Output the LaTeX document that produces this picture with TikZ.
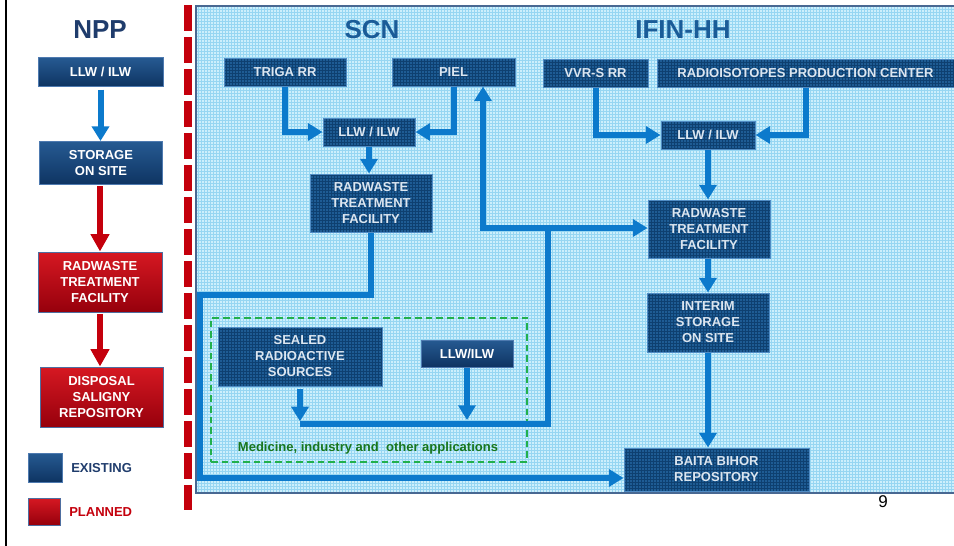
\documentclass[tikz,border=0pt]{standalone}
\usepackage{fontspec}
\setmainfont{Liberation Sans}
\usepackage{tikz}
\usetikzlibrary{arrows.meta}

\definecolor{navytxt}{RGB}{31,60,108}
\definecolor{headblue}{RGB}{26,92,152}
\definecolor{flowblue}{RGB}{12,122,204}
\definecolor{planred}{RGB}{196,0,12}
\definecolor{medgreen}{RGB}{34,176,76}
\definecolor{medtxt}{RGB}{24,118,28}
\definecolor{panelbg}{RGB}{204,239,252}
\definecolor{panelln}{RGB}{150,214,242}
\definecolor{panelfrm}{RGB}{72,104,146}
\definecolor{unitbg}{RGB}{30,92,148}
\definecolor{unitln}{RGB}{14,64,112}

\begin{document}
\begin{tikzpicture}[x=0.75pt,y=0.75pt,yscale=-1,xscale=1,
  boxfont/.style={font=\bfseries\fontsize{9.75}{12}\selectfont, align=center, inner sep=0pt},
  existing/.style={boxfont, draw={rgb,255:red,78;green,122;blue,176}, line width=0.75pt, top color={rgb,255:red,38;green,90;blue,146}, bottom color={rgb,255:red,14;green,52;blue,98}, text=white},
  planned/.style={boxfont, draw={rgb,255:red,78;green,110;blue,160}, line width=0.75pt, top color={rgb,255:red,214;green,24;blue,34}, bottom color={rgb,255:red,150;green,0;blue,12}, text=white},
  unit/.style={boxfont, draw={rgb,255:red,80;green,140;blue,196}, line width=0.75pt, fill=unitbg, text={rgb,255:red,220;green,230;blue,240},
    path picture={\draw[unitln, line width=0.3pt, step=3] (path picture bounding box.south west) grid (path picture bounding box.north east);}},
  flow/.style={draw=flowblue, line width=4.5pt, -{Triangle[width=12.75pt,length=11pt]}},
  pipe/.style={draw=flowblue, line width=4.5pt},
  redflow/.style={draw=planred, line width=4.5pt, -{Triangle[width=13.5pt,length=13pt]}},
  heading/.style={font=\bfseries\fontsize{19.5}{22}\selectfont, text=headblue, inner sep=0pt}
]
\useasboundingbox (0,0) rectangle (954,546);

%Background and frames
\draw[black, line width=1.9pt] (6,0) -- (6,546);
\fill[panelbg] (196,6) rectangle (954,493);
\draw[panelln, line width=0.35pt, step=3] (196,6) grid (954,493);
\draw[panelfrm, line width=1.9pt] (954,6) -- (196,6) -- (196,493) -- (954,493);
\draw[planred, line width=6pt, dash pattern=on 19.5pt off 4.5pt] (188,5) -- (188,510);

% Headings
\node[heading, text=navytxt] (nppT) at (100,30) {NPP};
\node[heading] (scnT) at (372,30) {SCN};
\node[heading] (ifinT) at (683,30) {IFIN-HH};

% NPP column
\node[existing, minimum width=93.75pt, minimum height=21.75pt] (nppLlw) at (100.5,72) {LLW / ILW};
\node[existing, minimum width=92.25pt, minimum height=32.25pt] (nppStore) at (101,163) {STORAGE\\ON SITE};
\node[planned, minimum width=93pt, minimum height=45pt] (nppRad) at (100,282) {RADWASTE\\TREATMENT\\FACILITY};
\node[planned, minimum width=92.25pt, minimum height=45pt] (nppDisp) at (101.5,397) {DISPOSAL\\SALIGNY\\REPOSITORY};

% Legend
\node[existing, minimum width=25.5pt, minimum height=21.75pt] (exBox) at (45,467.5) {};
\node[planned, minimum width=24pt, minimum height=20.25pt] (plBox) at (44,511.5) {};
\node[boxfont, text=navytxt, anchor=west] (exT) at (71,468) {EXISTING};
\node[boxfont, text=planred, anchor=west] (plT) at (69,512) {PLANNED};

% SCN units
\node[unit, minimum width=91.5pt, minimum height=21pt] (triga) at (285,72) {TRIGA RR};
\node[unit, minimum width=92.25pt, minimum height=21pt] (piel) at (453.5,72) {PIEL};
\node[unit, minimum width=69pt, minimum height=21pt] (llwS) at (369,132) {LLW / ILW};
\node[unit, minimum width=91.5pt, minimum height=43.5pt] (radS) at (371,203) {RADWASTE\\TREATMENT\\FACILITY};

% IFIN-HH units
\node[unit, minimum width=78.75pt, minimum height=21pt] (vvr) at (595.5,73) {VVR-S RR};
\node[unit, minimum width=222.75pt, minimum height=21pt] (rpc) at (805.5,73) {RADIOISOTOPES PRODUCTION CENTER};
\node[unit, minimum width=70.5pt, minimum height=21pt] (llwI) at (708,135) {LLW / ILW};
\node[unit, minimum width=91.5pt, minimum height=43.5pt] (radI) at (709,229) {RADWASTE\\TREATMENT\\FACILITY};
\node[unit, minimum width=91.5pt, minimum height=44.25pt] (interim) at (708,322.5) {INTERIM\\STORAGE\\ON SITE};
\node[unit, minimum width=138.75pt, minimum height=32.25pt] (baita) at (716.5,469.5) {BAITA BIHOR\\REPOSITORY};

% Other applications
\node[draw=medgreen, line width=1.9pt, dash pattern=on 5pt off 3pt, minimum width=237pt, minimum height=108pt] (med) at (369,390) {};
\node[boxfont, text=medtxt] (medT) at (368,448) {Medicine, industry and\ \ other applications};
\node[unit, minimum width=123pt, minimum height=44.25pt] (sealed) at (300,356.5) {SEALED\\RADIOACTIVE\\SOURCES};
\node[existing, minimum width=69pt, minimum height=20.25pt] (llwM) at (467,353.5) {LLW/ILW};

%Straight Lines
\coordinate (sL) at (200,295);
\coordinate (sB) at (200,478);
\coordinate (mJ) at (548,424);
\coordinate (mT) at (548,228);
\coordinate (mP) at (483,228);

% NPP flow
\draw[flow, shorten <=2pt] (nppLlw.south) -- (nppLlw.south |- nppStore.north);
\draw[redflow, shorten <=1pt] (nppRad.north |- nppStore.south) -- (nppRad.north);
\draw[redflow, shorten <=1pt] (nppRad.south) -- (nppRad.south |- nppDisp.north);

% SCN flow
\draw[flow] (triga.south) |- (llwS.west);
\draw[flow] (piel.south) |- (llwS.east);
\draw[flow] (llwS.south) -- (llwS.south |- radS.north);
\draw[flow] (radS.south) |- (sL) -- (sB) -- (sB -| baita.west);

% IFIN-HH flow
\draw[flow] (vvr.south) |- (llwI.west);
\draw[flow] (rpc.south) |- (llwI.east);
\draw[flow] (llwI.south) -- (llwI.south |- radI.north);
\draw[flow] (interim.north |- radI.south) -- (interim.north);
\draw[flow] (interim.south) -- (interim.south |- baita.north);

% applications flow
\draw[pipe] (mJ -| sealed.south) -- (mJ) -- (mT);
\draw[flow, shorten <=2pt, shorten >=2pt] (sealed.south) -- (sealed.south |- mJ);
\draw[flow, shorten >=3pt] (llwM.south) -- (llwM.south |- mJ);
\draw[flow] (mT) -- (mP) -- (mP |- piel.south);
\draw[flow] (mT) -- (mT -| radI.west);

% Page number
\node[font=\fontsize{12.75}{14}\selectfont, inner sep=0pt] (pageNo) at (883,502) {9};

\end{tikzpicture}
\end{document}
